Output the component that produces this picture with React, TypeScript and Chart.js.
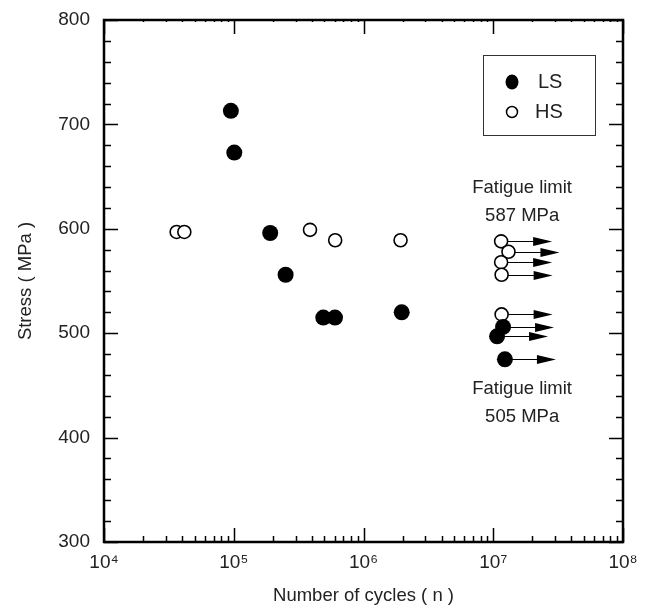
import { useEffect, useRef } from 'react';
import { Chart, registerables } from 'chart.js';

Chart.register(...registerables);

// ---- data ----
const LS_CYCLES = [95000, 101000, 191000, 251000, 490000, 603000, 1970000];
const LS_STRESS = [713, 673, 596, 556, 515, 515, 520];
const HS_CYCLES = [36300, 41600, 387000, 605000, 1930000];
const HS_STRESS = [597, 597, 599, 589, 589];
const LS_RUNOUT_CYCLES = [11900000, 10700000, 12300000];
const LS_RUNOUT_STRESS = [506, 497, 475];
const HS_RUNOUT_CYCLES = [11500000, 13100000, 11500000, 11600000, 11600000];
const HS_RUNOUT_STRESS = [588, 578, 568, 556, 518];

const X_TICKS = [1e4, 1e5, 1e6, 1e7, 1e8];
const X_TICK_LABELS = ['10⁴', '10⁵', '10⁶', '10⁷', '10⁸'];
const Y_TICKS = [300, 400, 500, 600, 700, 800];
const LEGEND_LABELS = ['LS', 'HS'];
const NOTE_LINES_HS = ['Fatigue limit', '587 MPa'];
const NOTE_LINES_LS = ['Fatigue limit', '505 MPa'];
const NOTE_X = 1.67e7;
const NOTE_Y_HS = [639, 612];
const NOTE_Y_LS = [447, 420];

const FONT = 'Liberation Sans, Arial, Helvetica, sans-serif';
const TEXT = '#222222';

const toPts = (xs: number[], ys: number[]) => xs.map((x, i) => ({ x, y: ys[i] }));

const framePlugin = {
  id: 'frameTicks',
  afterDraw(chart: any) {
    const { ctx, chartArea: a, scales } = chart;
    const xs = scales.x;
    const ys = scales.y;
    ctx.save();
    ctx.strokeStyle = '#000';
    ctx.lineWidth = 1.5;
    ctx.beginPath();
    // x ticks (log, inward)
    for (let k = 4; k <= 8; k++) {
      for (let m = 1; m <= 9; m++) {
        if (k === 8 && m > 1) break;
        const v = m * Math.pow(10, k);
        const px = Math.round(xs.getPixelForValue(v)) + 0.5;
        const major = m === 1;
        const lb = major ? 14 : 6;
        const lt = major ? 14 : 2;
        ctx.moveTo(px, a.bottom);
        ctx.lineTo(px, a.bottom - lb);
        ctx.moveTo(px, a.top);
        ctx.lineTo(px, a.top + lt);
      }
    }
    // y ticks
    for (let v = Y_TICKS[0]; v <= Y_TICKS[Y_TICKS.length - 1]; v += 20) {
      const py = Math.round(ys.getPixelForValue(v)) + 0.5;
      const major = v % 100 === 0;
      const l = major ? 14 : 7;
      ctx.moveTo(a.left, py);
      ctx.lineTo(a.left + l, py);
      ctx.moveTo(a.right, py);
      ctx.lineTo(a.right - l, py);
    }
    ctx.stroke();
    ctx.lineWidth = 2.5;
    ctx.strokeRect(a.left, a.top, a.right - a.left, a.bottom - a.top);

    // legend
    const bx = a.right - 140;
    const by = a.top + 35;
    const bw = 112;
    const bh = 80;
    ctx.lineWidth = 1;
    ctx.strokeStyle = '#333';
    ctx.strokeRect(bx + 0.5, by + 0.5, bw, bh);
    ctx.fillStyle = '#000';
    ctx.beginPath();
    ctx.ellipse(bx + 29, by + 27, 6.5, 7.5, 0, 0, Math.PI * 2);
    ctx.fill();
    ctx.fillStyle = '#fff';
    ctx.strokeStyle = '#000';
    ctx.lineWidth = 1.5;
    ctx.beginPath();
    ctx.arc(bx + 29, by + 57, 5.5, 0, Math.PI * 2);
    ctx.fill();
    ctx.stroke();
    ctx.fillStyle = TEXT;
    ctx.font = `20px ${FONT}`;
    ctx.textAlign = 'left';
    ctx.textBaseline = 'middle';
    ctx.fillText(LEGEND_LABELS[0], bx + 55, by + 27);
    ctx.fillText(LEGEND_LABELS[1], bx + 52, by + 57);

    // notes
    ctx.textAlign = 'center';
    ctx.font = `18.5px ${FONT}`;
    const nx = xs.getPixelForValue(NOTE_X);
    NOTE_LINES_HS.forEach((t, i) => ctx.fillText(t, nx, ys.getPixelForValue(NOTE_Y_HS[i])));
    NOTE_LINES_LS.forEach((t, i) => ctx.fillText(t, nx, ys.getPixelForValue(NOTE_Y_LS[i])));
    ctx.restore();
  },
};

const arrowPlugin = {
  id: 'runoutArrows',
  beforeDatasetsDraw(chart: any) {
    const { ctx } = chart;
    ctx.save();
    ctx.strokeStyle = '#000';
    ctx.fillStyle = '#000';
    ctx.lineWidth = 1;
    chart.data.datasets.forEach((ds: any, i: number) => {
      if (!ds.runout) return;
      const meta = chart.getDatasetMeta(i);
      meta.data.forEach((pt: any) => {
        const x = pt.x;
        const y = Math.round(pt.y) + 0.5;
        const tip = x + 51;
        ctx.beginPath();
        ctx.moveTo(x, y);
        ctx.lineTo(tip - 16, y);
        ctx.stroke();
        ctx.beginPath();
        ctx.moveTo(tip, y);
        ctx.lineTo(tip - 19, y - 4.5);
        ctx.lineTo(tip - 19, y + 4.5);
        ctx.closePath();
        ctx.fill();
      });
    });
    ctx.restore();
  },
};

export default function App() {
  const ref = useRef<HTMLCanvasElement | null>(null);
  useEffect(() => {
    if (!ref.current) return;
    const lsStyle = {
      backgroundColor: '#000',
      borderColor: '#000',
      borderWidth: 0,
      pointRadius: 8,
      pointHoverRadius: 8,
      showLine: false,
    };
    const hsStyle = {
      backgroundColor: '#fff',
      borderColor: '#000',
      borderWidth: 1.6,
      pointRadius: 6.5,
      pointHoverRadius: 6.5,
      showLine: false,
    };
    const chart = new Chart(ref.current, {
      type: 'scatter',
      data: {
        datasets: [
          { label: 'LS', data: toPts(LS_CYCLES, LS_STRESS), ...lsStyle },
          { label: 'LS runout', data: toPts(LS_RUNOUT_CYCLES, LS_RUNOUT_STRESS), runout: true, ...lsStyle } as any,
          { label: 'HS', data: toPts(HS_CYCLES, HS_STRESS), ...hsStyle },
          { label: 'HS runout', data: toPts(HS_RUNOUT_CYCLES, HS_RUNOUT_STRESS), runout: true, ...hsStyle } as any,
        ],
      },
      options: {
        animation: false,
        responsive: false,
        events: [],
        layout: { padding: { top: 20, right: 31, left: 0, bottom: 0 } },
        plugins: { legend: { display: false }, tooltip: { enabled: false } },
        scales: {
          x: {
            type: 'logarithmic',
            min: X_TICKS[0],
            max: X_TICKS[X_TICKS.length - 1],
            afterBuildTicks: (s: any) => {
              s.ticks = X_TICKS.map((v) => ({ value: v }));
            },
            afterFit: (s: any) => {
              s.height = 66;
              s.paddingLeft = 0;
              s.paddingRight = 0;
            },
            grid: { display: false, drawTicks: false },
            border: { display: false },
            ticks: {
              autoSkip: false,
              maxRotation: 0,
              padding: 9,
              color: TEXT,
              font: { family: FONT, size: 19 },
              callback: (v: any) => {
                const i = X_TICKS.indexOf(Number(v));
                return i >= 0 ? X_TICK_LABELS[i] : '';
              },
            },
            title: {
              display: true,
              text: 'Number of cycles ( n )',
              color: TEXT,
              font: { family: FONT, size: 18.5 },
              padding: { top: 0, bottom: 1 },
            },
          },
          y: {
            type: 'linear',
            min: Y_TICKS[0],
            max: Y_TICKS[Y_TICKS.length - 1],
            afterBuildTicks: (s: any) => {
              s.ticks = Y_TICKS.map((v) => ({ value: v }));
            },
            afterFit: (s: any) => {
              s.width = 104;
              s.paddingTop = 0;
              s.paddingBottom = 0;
            },
            grid: { display: false, drawTicks: false },
            border: { display: false },
            ticks: {
              padding: 14,
              color: TEXT,
              font: { family: FONT, size: 19 },
            },
            title: {
              display: true,
              text: 'Stress ( MPa )',
              color: TEXT,
              font: { family: FONT, size: 18.5 },
              padding: { top: 15, bottom: 0 },
            },
          },
        },
      },
      plugins: [arrowPlugin, framePlugin],
    });
    return () => chart.destroy();
  }, []);
  return (
    <div style={{ position: 'fixed', left: 0, top: 0, width: 654, height: 608, background: '#fff' }}>
      <canvas ref={ref} width={654} height={608} style={{ width: 654, height: 608, display: 'block' }} />
    </div>
  );
}
